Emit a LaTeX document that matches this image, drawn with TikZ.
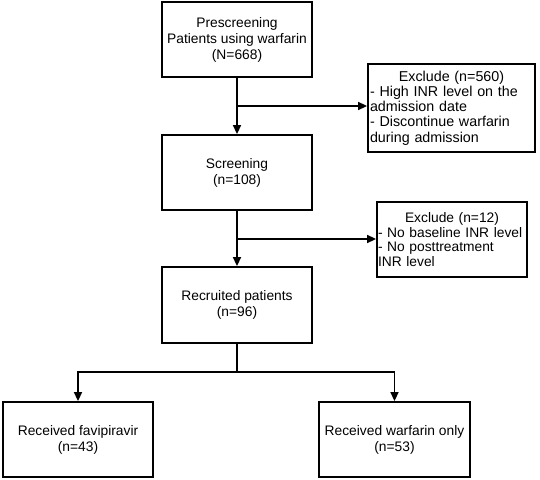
\documentclass[tikz,border=0pt]{standalone}
\usepackage{fontspec}
\setmainfont{Liberation Sans}
\usetikzlibrary{arrows.meta}
\begin{document}
\begin{tikzpicture}[x=1pt,y=-1pt,
  box/.style={draw,line width=1.8pt,minimum width=150pt,minimum height=75pt,align=center,inner sep=0pt,font=\fontsize{13.8}{16}\selectfont},
  exbox/.style={draw,line width=1.8pt,inner ysep=0pt,align=left},
  arr/.style={line width=1.5pt,-{Triangle[length=9pt,width=8pt]}},
  ln/.style={line width=1.5pt}]
\useasboundingbox (0,0) rectangle (540,479);
\node[box] (pre) at (237,39.5) {Prescreening\\Patients using warfarin\\(N=668)};
\node[box] (scr) at (237,172.5) {Screening\\(n=108)};
\node[box,minimum height=76pt] (rec) at (237,305) {Recruited patients\\(n=96)};
\node[box] (fav) at (78,439.5) {Received favipiravir\\(n=43)};
\node[box,minimum width=151pt] (war) at (394.5,439.5) {Received warfarin only\\(n=53)};
\node[exbox,text width=163pt,inner xsep=2pt,minimum height=88pt,font=\fontsize{14.3}{15.2}\selectfont] (ex1) at (451.5,108)
  {\makebox[163pt][c]{Exclude (n=560)}\\- High INR level on the\\admission date\\- Discontinue warfarin\\during admission};
\node[exbox,text width=148pt,inner xsep=1pt,minimum height=75pt,font=\fontsize{13.8}{14.5}\selectfont] (ex2) at (452,239.5)
  {\makebox[148pt][c]{Exclude (n=12)}\\- No baseline INR level\\- No posttreatment\\INR level};
\coordinate (j1) at (237,106);
\coordinate (j2) at (237,239);
\coordinate (j3) at (237,372);
\draw[arr] (pre) -- (scr);
\draw[arr] (scr) -- (rec);
\draw[arr] (j1) -- (j1 -| ex1.west);
\draw[arr] (j2) -- (j2 -| ex2.west);
\draw[ln] (rec.south) -- (j3);
\draw[arr] (j3) -| (fav.north);
\draw[arr] (j3) -| (war.north);
\end{tikzpicture}
\end{document}
